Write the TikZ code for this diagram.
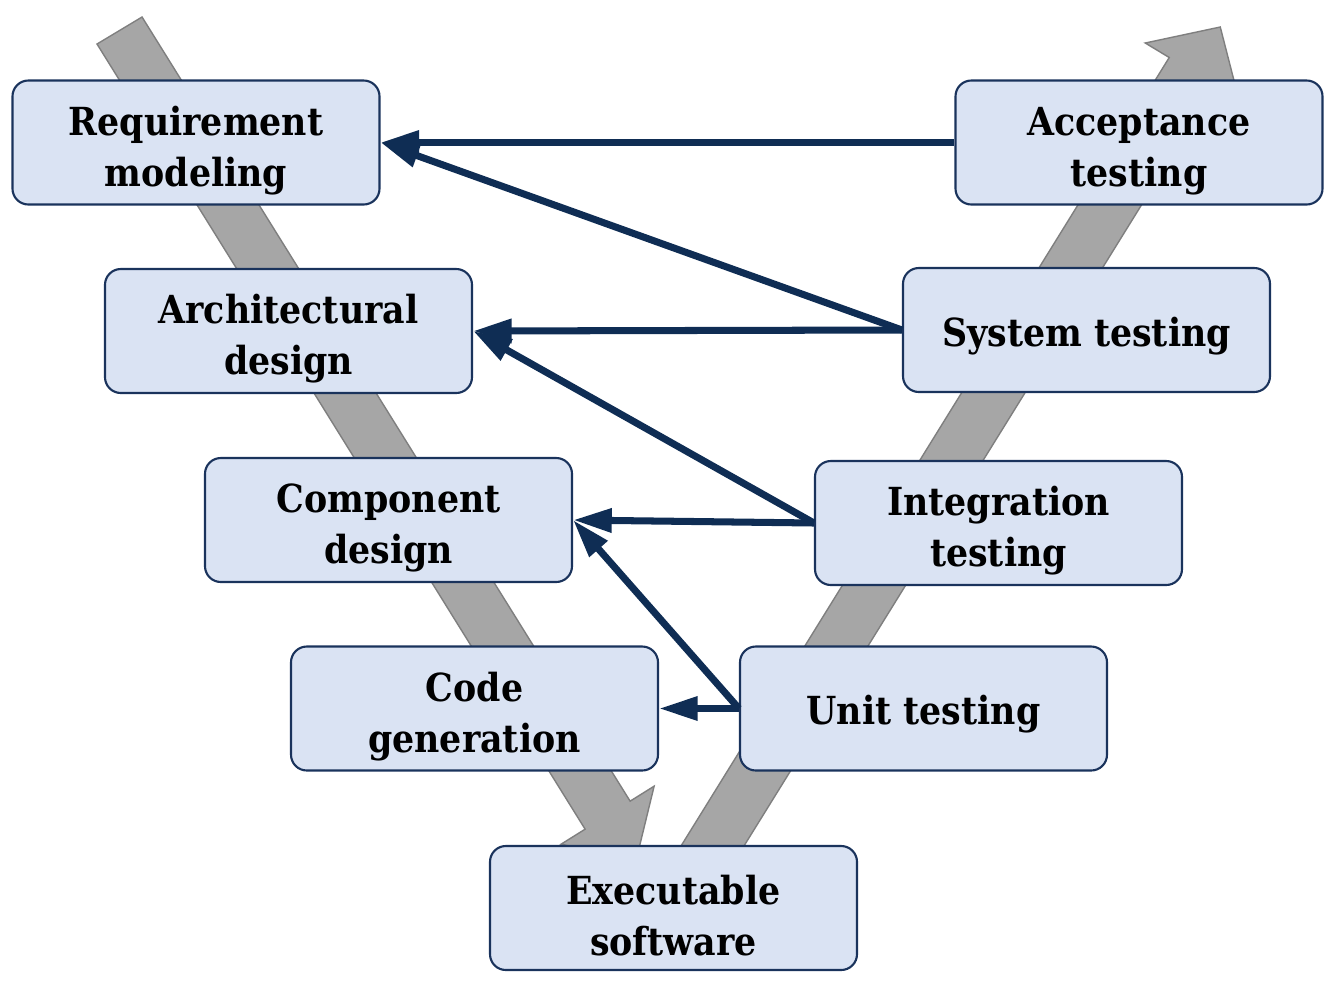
\documentclass[tikz,border=0pt]{standalone}
\usepackage{fontspec}
\setmainfont{DejaVu Serif}[FakeStretch=0.9]
\usetikzlibrary{arrows.meta,positioning}
\definecolor{navy}{HTML}{0F2D54}
\definecolor{boxfill}{HTML}{DAE3F3}
\definecolor{boxline}{HTML}{1A335C}
\definecolor{band}{HTML}{A6A6A6}
\definecolor{bandline}{HTML}{7F7F7F}
\tikzset{
  phase/.style={draw=boxline,line width=1.2pt,rounded corners=9pt,fill=boxfill,align=center,
    minimum width=7.34cm,minimum height=2.48cm,inner sep=0pt,font=\fontsize{22}{29}\selectfont\bfseries,
    execute at begin node={\rule{0pt}{#1}}},
  phase/.default=23.5pt,
  ar/.style={-{Triangle[length=22pt,width=13pt]},line width=4pt,draw=navy},
  flow/.style={draw=bandline,line width=0.8pt,fill=band,line join=miter},
}

\begin{document}
\begin{tikzpicture}
\useasboundingbox (0,0) rectangle (26.76,-19.68);
% the two gray flows, in pixel units
\begin{scope}[x=0.02cm,y=-0.02cm]
\draw[flow] (142,17) -- (630,801) -- (654,786) -- (636,860) -- (561,844) -- (585,829) -- (97,44) -- cycle;
\draw[flow] (656,886) -- (1169,57.5) -- (1145,43) -- (1220,27) -- (1239,101) -- (1215,86) -- (701.5,914) -- cycle;
\end{scope}
% left side
\node[phase=54.5pt] (req) at (3.92,-2.85) {Requirement\\modeling};
\node[phase=54.5pt] (arch) at (5.77,-6.62) {Architectural\\design};
\node[phase=54.5pt] (comp) at (7.77,-10.40) {Component\\design};
\node[phase=54.5pt] (code) at (9.49,-14.17) {Code\\generation};
\node[phase=54.5pt] (exe) at (13.47,-18.16) {Executable\\software};
% right side
\node[phase] (unit) at (18.47,-14.17) {Unit testing};
\node[phase=54.5pt] (integ) at (19.97,-10.46) {Integration\\testing};
\node[phase] (sys) at (21.73,-6.60) {System testing};
\node[phase=54.5pt] (acc) at (22.78,-2.85) {Acceptance\\testing};
% links back
\draw[ar] (acc.west) -- (req.east);
\draw[ar] (sys.west) -- (req.east);
\draw[ar] (sys.west) -- (arch.east);
\draw[ar] (integ.west) -- (arch.east);
\draw[ar] (integ.west) -- (comp.east);
\draw[ar] (unit.west) -- (comp.east);
\draw[ar] (unit.west) -- (code.east);
\end{tikzpicture}
\end{document}
